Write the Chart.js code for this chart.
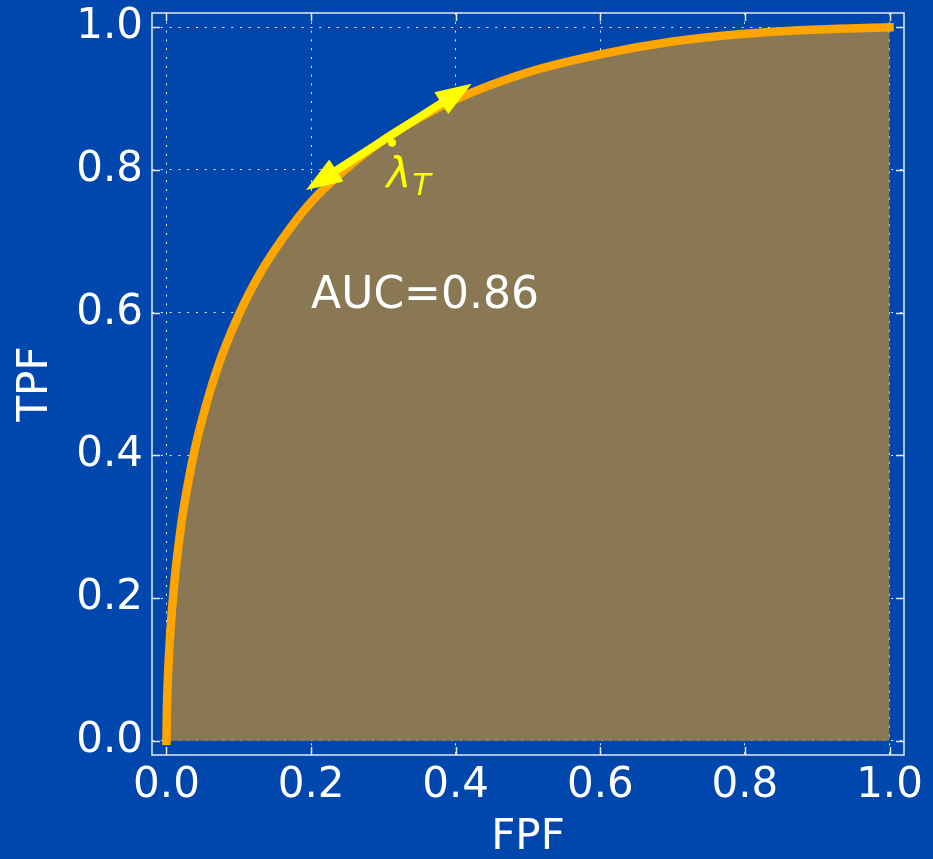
<!DOCTYPE html>
<html><head><meta charset="utf-8">
<script src="https://cdn.jsdelivr.net/npm/chart.js@4.4.0/dist/chart.umd.min.js"></script>
<style>html,body{margin:0;padding:0;background:#0047ad;overflow:hidden}</style>
</head><body>
<canvas id="c" width="933" height="859"></canvas>
<script>
// ROC curve values
const fpf = [0, 0.0005, 0.001, 0.002, 0.005, 0.01, 0.02, 0.03, 0.04, 0.05, 0.07, 0.10, 0.13, 0.16, 0.20, 0.25, 0.30, 0.35, 0.40, 0.50, 0.60, 0.70, 0.80, 0.90, 1.00];
const tpf = [0, 0.039, 0.06, 0.089, 0.147, 0.212, 0.30, 0.362, 0.412, 0.453, 0.521, 0.597, 0.656, 0.703, 0.755, 0.803, 0.842, 0.873, 0.899, 0.937, 0.962, 0.980, 0.991, 0.997, 1.00];
const tickValues = [0, 0.2, 0.4, 0.6, 0.8, 1.0];
const tickLabels = ['0.0', '0.2', '0.4', '0.6', '0.8', '1.0'];
const axisTitles = ['FPF', 'TPF'];
const operatingPoint = [0.312, 0.838];
const arrowFPF = [0.193, 0.422];
const arrowTPF = [0.772, 0.921];
const aucText = 'AUC=0.86';
const aucPos = [0.20, 0.622];
const lambdaPos = [0.303, 0.80];

const BG = '#0047ad';
const FONT = 'DejaVu Sans';

const bgPlugin = {
  id: 'bg',
  beforeDraw(chart) {
    const c = chart.ctx;
    c.save(); c.fillStyle = BG; c.fillRect(0, 0, chart.width, chart.height); c.restore();
  }
};

const overlay = {
  id: 'overlay',
  afterDraw(chart) {
    const c = chart.ctx, xs = chart.scales.x, ys = chart.scales.y, a = chart.chartArea;
    c.save();
    // frame
    c.strokeStyle = 'rgba(240,240,245,0.95)';
    c.lineWidth = 1.5;
    c.strokeRect(a.left, a.top, a.right - a.left, a.bottom - a.top);
    // inward ticks
    const tl = 8;
    c.beginPath();
    tickValues.forEach(v => {
      const px = Math.round(xs.getPixelForValue(v)) + 0.5;
      c.moveTo(px, a.bottom); c.lineTo(px, a.bottom - tl);
      c.moveTo(px, a.top); c.lineTo(px, a.top + tl);
      const py = Math.round(ys.getPixelForValue(v)) + 0.5;
      c.moveTo(a.left, py); c.lineTo(a.left + tl, py);
      c.moveTo(a.right, py); c.lineTo(a.right - tl, py);
    });
    c.stroke();
    // double headed arrow
    const x1 = xs.getPixelForValue(arrowFPF[0]), y1 = ys.getPixelForValue(arrowTPF[0]);
    const x2 = xs.getPixelForValue(arrowFPF[1]), y2 = ys.getPixelForValue(arrowTPF[1]);
    const L = Math.hypot(x2 - x1, y2 - y1), ux = (x2 - x1) / L, uy = (y2 - y1) / L;
    const nx = -uy, ny = ux;
    const hl = 36, hw = 13, sw = 4;
    c.fillStyle = '#ffff00';
    c.beginPath();
    c.moveTo(x1, y1);
    c.lineTo(x1 + ux * hl + nx * hw, y1 + uy * hl + ny * hw);
    c.lineTo(x1 + ux * hl + nx * sw, y1 + uy * hl + ny * sw);
    c.lineTo(x2 - ux * hl + nx * sw, y2 - uy * hl + ny * sw);
    c.lineTo(x2 - ux * hl + nx * hw, y2 - uy * hl + ny * hw);
    c.lineTo(x2, y2);
    c.lineTo(x2 - ux * hl - nx * hw, y2 - uy * hl - ny * hw);
    c.lineTo(x2 - ux * hl - nx * sw, y2 - uy * hl - ny * sw);
    c.lineTo(x1 + ux * hl - nx * sw, y1 + uy * hl - ny * sw);
    c.lineTo(x1 + ux * hl - nx * hw, y1 + uy * hl - ny * hw);
    c.closePath();
    c.fill();
    // lambda_T label
    const lx = xs.getPixelForValue(lambdaPos[0]), ly = ys.getPixelForValue(lambdaPos[1]);
    c.fillStyle = '#ffff00';
    c.textBaseline = 'alphabetic';
    c.textAlign = 'left';
    c.font = 'italic 42px ' + FONT;
    c.fillText('λ', lx + 1, ly + 18);
    const w = c.measureText('λ').width;
    c.font = 'italic 30px ' + FONT;
    c.fillText('T', lx + w + 2, ly + 25);
    // AUC text
    c.fillStyle = '#ffffff';
    c.font = '44px ' + FONT;
    c.textBaseline = 'middle';
    c.fillText(aucText, xs.getPixelForValue(aucPos[0]), ys.getPixelForValue(aucPos[1]));
    c.restore();
  }
};

const setTicks = s => { s.ticks = tickValues.map(v => ({ value: v })); };
const GRID = 'rgba(235,235,245,1)';

new Chart(document.getElementById('c'), {
  type: 'line',
  data: {
    datasets: [
      {
        data: fpf.map((x, i) => ({ x, y: tpf[i] })),
        borderColor: '#ffa500',
        backgroundColor: 'rgb(138,120,84)',
        borderWidth: 8.5,
        borderCapStyle: 'square',
        fill: 'origin',
        pointRadius: 0,
        cubicInterpolationMode: 'monotone',
        order: 2
      },
      {
        data: [{ x: operatingPoint[0], y: operatingPoint[1] }],
        showLine: false,
        pointRadius: 4,
        pointBackgroundColor: '#ffff00',
        pointBorderWidth: 0,
        order: 1
      }
    ]
  },
  options: {
    responsive: false,
    animation: false,
    devicePixelRatio: 1,
    layout: { padding: { top: 13, right: 29, left: 0, bottom: 0 } },
    plugins: { legend: { display: false }, tooltip: { enabled: false } },
    scales: {
      x: {
        type: 'linear', min: -0.02, max: 1.02, z: 1,
        afterBuildTicks: setTicks,
        afterFit: s => { s.height = 104; s.paddingLeft = 0; s.paddingRight = 0; },
        grid: { color: GRID, lineWidth: 1, drawTicks: false },
        border: { display: false, dash: [2, 6.8] },
        ticks: { padding: 6, color: '#ffffff', font: { family: FONT, size: 42 }, maxRotation: 0, autoSkip: false,
                 callback: (v, i) => tickLabels[i] },
        title: { display: true, text: axisTitles[0], color: '#ffffff', font: { family: FONT, size: 42, lineHeight: 1 }, padding: { top: 0, bottom: 0 } }
      },
      y: {
        type: 'linear', min: -0.02, max: 1.02, z: 1,
        afterBuildTicks: setTicks,
        afterFit: s => { s.width = 152; s.paddingTop = 0; s.paddingBottom = 0; },
        grid: { color: GRID, lineWidth: 1, drawTicks: false },
        border: { display: false, dash: [2, 6.8] },
        ticks: { padding: 9, color: '#ffffff', font: { family: FONT, size: 42 }, autoSkip: false,
                 callback: (v, i) => tickLabels[i] },
        title: { display: true, text: axisTitles[1], color: '#ffffff', font: { family: FONT, size: 42, lineHeight: 1 }, padding: { top: 15, bottom: 0 } }
      }
    }
  },
  plugins: [bgPlugin, overlay]
});
</script>
</body></html>
